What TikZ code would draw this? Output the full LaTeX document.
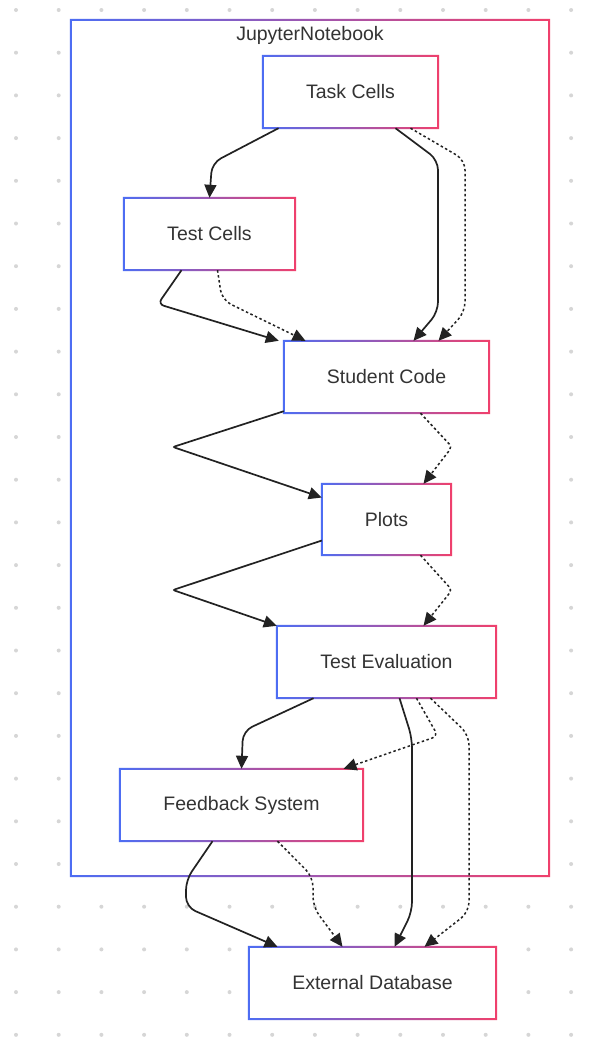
\documentclass[tikz,border=0pt]{standalone}
\usepackage{fontspec}
\setmainfont{Liberation Sans}
\usepackage{xcolor}
\usetikzlibrary{calc,arrows.meta,positioning}
\definecolor{bluec}{HTML}{4D6DF3}
\definecolor{pinkc}{HTML}{F0406C}
\definecolor{inkc}{HTML}{333333}
\definecolor{linec}{HTML}{222222}
\definecolor{dotc}{HTML}{D6D6D6}
\tikzset{
  box/.style={fill=white,inner sep=0pt,minimum height=72pt,font=\fontsize{19.5}{23}\selectfont,text=inkc},
  ln/.style={-{Triangle[length=13pt,width=12pt]},line width=1.7pt,linec,rounded corners=10pt},
  dl/.style={ln,line width=1.5pt,dash pattern=on 2.5pt off 2.5pt}
}
% gradient frame round a node
\newcommand\gframe[1]{%
  \shade[left color=bluec,right color=pinkc,even odd rule]
    ([shift={(-1pt,-1pt)}]#1.south west) rectangle ([shift={(1pt,1pt)}]#1.north east)
    ([shift={(1pt,1pt)}]#1.south west) rectangle ([shift={(-1pt,-1pt)}]#1.north east);}
\begin{document}
\begin{tikzpicture}[x=1pt,y=-1pt]
\useasboundingbox (0,0) rectangle (608,1039);
\fill[white] (0,0) rectangle (608,1039);
\foreach \i in {0,...,13}
  \foreach \j in {0,...,24}
    \fill[dotc] (16+42.7*\i,10+42.7*\j) circle (2pt);
% container
\node[box,minimum width=478pt,minimum height=856pt] (nb) at (310,448) {};
\gframe{nb}
\node[font=\fontsize{19.5}{23}\selectfont,text=inkc] (nbl) at (310,35) {JupyterNotebook};
% cells
\node[box,minimum width=175pt] (task) at (350.5,92) {Task Cells};
\node[box,minimum width=171pt] (test) at (209.5,234) {Test Cells};
\node[box,minimum width=205pt] (stud) at (386.5,377) {Student Code};
\node[box,minimum width=129pt,minimum height=71pt] (plots) at (386.5,519.5) {Plots};
\node[box,minimum width=219pt] (teval) at (386.5,662) {Test Evaluation};
\node[box,minimum width=243pt] (fb) at (241.5,805) {Feedback System};
\node[box,minimum width=247pt] (db) at (372.5,983) {External Database};
\foreach \n in {task,test,stud,plots,teval,fb,db} {\gframe{\n}}
% links
\draw[ln] ([xshift=-72pt]task.south) -- (212,163) -- (test.north);
\draw[ln] ([xshift=45pt]task.south) -- (438,160) -- (438,312) -- ([xshift=27pt]stud.north);
\draw[dl] ([xshift=60pt]task.south) -- (465,160) -- (465,312) -- ([xshift=52pt]stud.north);
\draw[ln,rounded corners=6pt] ([xshift=-28pt]test.south) -- (158,304) -- ([xshift=-5pt]stud.north west);
\draw[dl] ([xshift=8pt]test.south) -- (222,300) -- ([xshift=-81pt]stud.north);
\draw[ln,rounded corners=2pt] ([yshift=2pt]stud.south west) -- (173,447) -- ([yshift=22pt]plots.west);
\draw[dl,rounded corners=4pt] ([xshift=34pt]stud.south) -- (452,447) -- ([xshift=37pt]plots.north);
\draw[ln,rounded corners=2pt] ([yshift=-21pt]plots.west) -- (173,590) -- (teval.north west);
\draw[dl,rounded corners=4pt] ([xshift=34pt]plots.south) -- (452,590) -- ([xshift=37pt]teval.north);
\draw[ln] ([xshift=-73pt]teval.south) -- (243,731) -- (fb.north);
\draw[dl,rounded corners=6pt] ([xshift=30pt]teval.south) -- (438,736) -- ([xshift=102pt]fb.north);
\draw[ln] ([xshift=13pt]teval.south) -- (412,738) -- (412,912) -- ([xshift=22pt]db.north);
\draw[dl] ([xshift=44pt]teval.south) -- (469,735) -- (469,912) -- ([xshift=52pt]db.north);
\draw[ln] ([xshift=-29pt]fb.south) -- (186,880) -- (186,907) -- ([xshift=-95pt]db.north);
\draw[dl] ([xshift=36pt]fb.south) -- (313,877) -- (313,907) -- ([xshift=-30pt]db.north);
\end{tikzpicture}
\end{document}
